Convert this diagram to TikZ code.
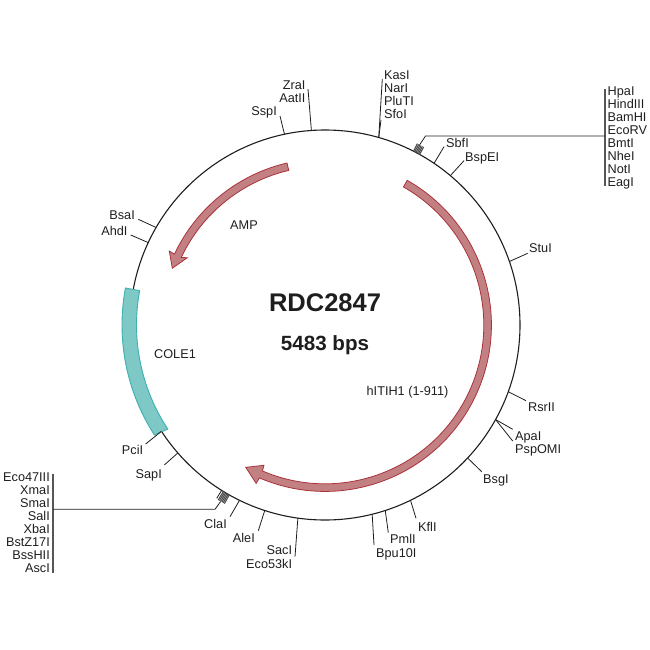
\documentclass[tikz,border=0pt]{standalone}
\usepackage{fontspec}
\setmainfont{Liberation Sans}
\definecolor{bandred}{RGB}{194,128,130}
\definecolor{edgered}{RGB}{170,50,58}
\definecolor{bandcyan}{RGB}{126,200,198}
\definecolor{edgecyan}{RGB}{62,176,176}
\definecolor{ink}{RGB}{30,30,30}
\tikzset{
    site/.style={
        inner sep = 0pt, text = ink,
        text height = 9.1pt, text depth = 0pt,
        font = \fontsize{12.7}{13}\selectfont
    },
    stack/.style={
        inner sep = 0pt, text = ink,
        font = \fontsize{12.7}{13}\selectfont
    },
    tick/.style = {draw = ink, line width = 0.8pt},
    bar/.style = {draw = ink!75, line width = 1.1pt},
    fan/.style = {draw = ink!80, line width = 1.1pt},
    gene/.style = {draw = edgered, fill = bandred, line width = 0.8pt},
    ori/.style = {draw = edgecyan, fill = bandcyan, line width = 0.9pt}
}

\begin{document}
\begin{tikzpicture}[x=1pt, y=-1pt]
    \useasboundingbox (0,0) rectangle (650,650);

    % Backbone
    \node[draw = ink, circle, minimum size = 390pt, inner sep = 0pt, outer sep = 0pt, line width = 1.1pt] (plasmid) at (325,325) {};

    % Features
    \begin{scope}[shift={(325,325)}, y=1pt]
        \draw[ori] (169.5:203) arc[start angle=169.5, end angle=212.8, radius=203]
            -- (213.5:188.5) arc[start angle=213.5, end angle=169.5, radius=188.5] -- cycle;
        \draw[gene] (103.2:166.4) arc[start angle=103.2, end angle=154.8, radius=166.4]
            -- (154.6:172.4) -- (159.6:162.9) -- (154:153.3)
            -- (154.8:158.8) arc[start angle=154.8, end angle=103.2, radius=158.8] -- cycle;
        \draw[gene] (60.4:166.4) arc[start angle=60.4, end angle=-113.2, radius=166.4]
            -- (-113.5:172.7) -- (-119.1:162.9) -- (-113.5:153)
            -- (-113.2:158.8) arc[start angle=-113.2, end angle=60.4, radius=158.8] -- cycle;

        % Multiple cloning sites
        \foreach \a in {61,61.4,...,63.1} \draw[fan] (\a:195) -- (\a:203.5);
        \foreach \a in {-119.4,-119.8,...,-121.5} \draw[fan] (\a:195) -- (\a:205);
        \coordinate (mcsA) at (62.3:203.5);
        \coordinate (mcsB) at (-120.6:205);
    \end{scope}

    % Feature and title labels
    \node[site] (amp) at (244,224.5) {AMP};
    \node[site] (cole) at (175,354) {COLE1};
    \node[site] (hitih) at (407.5,391) {hITIH1 (1-911)};
    \node[font=\bfseries\fontsize{25.5}{26}\selectfont, text=ink] (title) at (325,303) {RDC2847};
    \node[font=\bfseries\fontsize{20.6}{21}\selectfont, text=ink] (size) at (325,345) {5483 bps};

    % Top sites
    \node[site, anchor=east] (sspI) at (277,110.7) {SspI};
    \node[site, anchor=east] (zraI) at (305.7,85) {ZraI};
    \node[site, anchor=east] (aatII) at (305.7,98) {AatII};
    \node[site, anchor=west] (kasI) at (384,74.7) {KasI};
    \node[site, anchor=west] (narI) at (384,88) {NarI};
    \node[site, anchor=west] (pluTI) at (384,101) {PluTI};
    \node[site, anchor=west] (sfoI) at (384,114) {SfoI};
    \node[site, anchor=west] (sbfI) at (446,142.5) {SbfI};
    \node[site, anchor=west] (bspEI) at (465,156.7) {BspEI};
    \node[site, anchor=west] (stuI) at (529,248.3) {StuI};
    \coordinate (sspEnd) at (280,116);
    \coordinate (zraEnd) at (308,89);
    \coordinate (kasEnd) at (382.3,79);
    \coordinate (sfoEnd) at (381,120);
    \coordinate (sbfEnd) at (444,146.7);
    \coordinate (bspEnd) at (464,160.7);
    \coordinate (stuEnd) at (527.7,253.3);
    \draw[tick] (plasmid.102.1) -- (sspEnd);
    \draw[tick] (plasmid.94.5) -- (zraEnd);
    \draw[tick] (plasmid.74.5) -- (kasEnd);
    \draw[tick] (plasmid.74.5) -- (sfoEnd);
    \draw[tick] (plasmid.56.2) -- (sbfEnd);
    \draw[tick] (plasmid.50) -- (bspEnd);
    \draw[tick] (plasmid.19.1) -- (stuEnd);

    % Right sites
    \node[site, anchor=west] (rsrII) at (528,406.7) {RsrII};
    \node[site, anchor=west] (apaI) at (515,436) {ApaI};
    \node[site, anchor=west] (pspOMI) at (515,449.3) {PspOMI};
    \node[site, anchor=west] (bsgI) at (483,479.3) {BsgI};
    \coordinate (rsrEnd) at (526,400.7);
    \coordinate (apaEnd) at (512.7,429.3);
    \coordinate (pspEnd) at (512.7,441);
    \coordinate (bsgEnd) at (481.7,471.7);
    \draw[tick] (plasmid.-20.4) -- (rsrEnd);
    \draw[tick] (plasmid.-29) -- (apaEnd);
    \draw[tick] (plasmid.-29) -- (pspEnd);
    \draw[tick] (plasmid.-43.1) -- (bsgEnd);

    % Bottom sites
    \node[site, anchor=west] (kflI) at (418,526.7) {KflI};
    \node[site, anchor=west] (pmlI) at (390,539.3) {PmlI};
    \node[site, anchor=west] (bpu) at (376,552.7) {Bpu10I};
    \node[site, anchor=east] (sacI) at (292.3,550) {SacI};
    \node[site, anchor=east] (eco) at (292.3,564) {Eco53kI};
    \node[site, anchor=east] (aleI) at (255,537.7) {AleI};
    \node[site, anchor=east] (claI) at (227,524) {ClaI};
    \coordinate (kflEnd) at (416,518.3);
    \coordinate (pmlEnd) at (388.3,532.7);
    \coordinate (bpuEnd) at (374,545);
    \coordinate (sacEnd) at (295,556.7);
    \coordinate (aleEnd) at (258.3,530.7);
    \coordinate (claEnd) at (230,516.7);
    \coordinate (mcsEnd) at (216.7,498.3);
    \draw[tick] (plasmid.-64.9) -- (kflEnd);
    \draw[tick] (plasmid.-72.8) -- (pmlEnd);
    \draw[tick] (plasmid.-76.7) -- (bpuEnd);
    \draw[tick] (plasmid.-98.1) -- (sacEnd);
    \draw[tick] (plasmid.-108.3) -- (aleEnd);
    \draw[tick] (plasmid.-116.4) -- (claEnd);
    \draw[tick] (plasmid.-122.5) -- (mcsEnd);

    % Left sites
    \node[site, anchor=east] (sapI) at (162,474) {SapI};
    \node[site, anchor=east] (pciI) at (143.3,450) {PciI};
    \node[site, anchor=east] (bsaI) at (135,215) {BsaI};
    \node[site, anchor=east] (ahdI) at (127.7,230.7) {AhdI};
    \coordinate (sapEnd) at (164.3,465);
    \coordinate (pciEnd) at (145.7,444);
    \coordinate (bsaEnd) at (138.3,219.3);
    \coordinate (ahdEnd) at (130.7,235);
    \draw[tick] (plasmid.221.7) -- (sapEnd);
    \draw[tick] (plasmid.213.6) -- (pciEnd);
    \draw[tick] (plasmid.150.5) -- (bsaEnd);
    \draw[tick] (plasmid.155.1) -- (ahdEnd);

    % Site lists
    \node[stack, align=left, anchor=north west] (listA) at (607.5,87) {HpaI \\ HindIII \\ BamHI \\ EcoRV \\ BmtI \\ NheI \\ NotI \\ EagI};
    \node[stack, align=right, anchor=north east] (listB) at (50,473) {Eco47III \\ XmaI \\ SmaI \\ SalI \\ XbaI \\ BstZ17I \\ BssHII \\ AscI};
    \coordinate (barAtop) at (605,89.3);
    \coordinate (barAend) at (605,186);
    \coordinate (barAjoin) at (605,136);
    \coordinate (mcsAbend) at (425.5,136);
    \coordinate (barBtop) at (53,474.3);
    \coordinate (barBend) at (53,573.3);
    \coordinate (barBjoin) at (53,509.3);
    \coordinate (mcsBbend) at (215,509.3);
    \draw[bar] (barAtop) -- (barAend);
    \draw[bar] (barBtop) -- (barBend);
    \draw[tick] (mcsA) -- (mcsAbend) -- (barAjoin);
    \draw[tick] (mcsB) -- (mcsBbend) -- (barBjoin);
\end{tikzpicture}
\end{document}
